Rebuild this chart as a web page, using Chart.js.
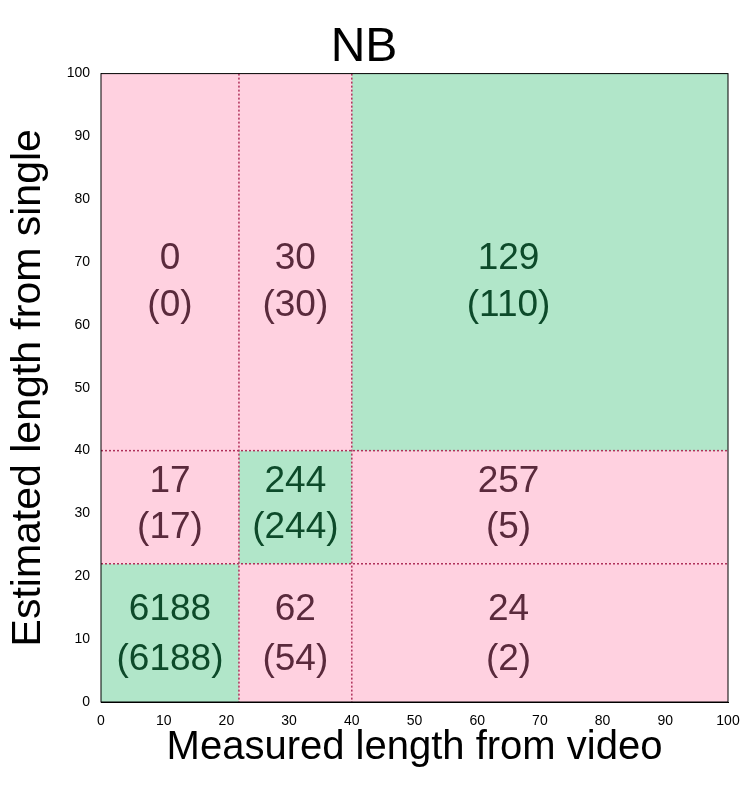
<html>
<head>
<script src="https://cdn.jsdelivr.net/npm/chart.js"></script>
<style>body{margin:0;background:#fff}</style>
</head>
<body>
<div style="width:743px;height:798px"><canvas id="c"></canvas></div>
<script>
const xEdges = [0, 22, 40, 100];
const yEdges = [0, 22, 40, 100];
// rows bottom -> top, columns left -> right
const counts = [[6188, 62, 24], [17, 244, 257], [0, 30, 129]];
const paren = [[6188, 54, 2], [17, 244, 5], [0, 30, 110]];
const labelX = [11, 31, 65];
const labelY = [[14.6, 6.7], [35, 27.7], [70.5, 63]];

const pink = '#ffd1e0', green = '#b1e6c9';

const cellPlugin = {
  id: 'cells',
  beforeDatasetsDraw(chart) {
    const {ctx, scales: {x, y}} = chart;
    ctx.save();
    for (let r = 0; r < 3; r++) for (let c = 0; c < 3; c++) {
      const x0 = x.getPixelForValue(xEdges[c]), x1 = x.getPixelForValue(xEdges[c + 1]);
      const y0 = y.getPixelForValue(yEdges[r]), y1 = y.getPixelForValue(yEdges[r + 1]);
      ctx.fillStyle = r === c ? green : pink;
      ctx.fillRect(x0, y1, x1 - x0, y0 - y1);
    }
    ctx.strokeStyle = '#b0305a';
    ctx.lineWidth = 1.5;
    ctx.setLineDash([2, 2]);
    const a = chart.chartArea;
    [xEdges[1], xEdges[2]].forEach(v => {
      const px = x.getPixelForValue(v);
      ctx.beginPath(); ctx.moveTo(px, a.top); ctx.lineTo(px, a.bottom); ctx.stroke();
    });
    [yEdges[1], yEdges[2]].forEach(v => {
      const py = y.getPixelForValue(v);
      ctx.beginPath(); ctx.moveTo(a.left, py); ctx.lineTo(a.right, py); ctx.stroke();
    });
    ctx.setLineDash([]);
    ctx.font = '37px Arial, "Liberation Sans", sans-serif';
    ctx.textAlign = 'center';
    ctx.textBaseline = 'middle';
    for (let r = 0; r < 3; r++) for (let c = 0; c < 3; c++) {
      ctx.fillStyle = r === c ? '#0d4a2a' : '#5a2a3c';
      const px = x.getPixelForValue(labelX[c]);
      ctx.fillText(String(counts[r][c]), px, y.getPixelForValue(labelY[r][0]));
      ctx.fillText('(' + paren[r][c] + ')', px, y.getPixelForValue(labelY[r][1]));
    }
    ctx.strokeStyle = '#000';
    ctx.lineWidth = 1;
    ctx.strokeRect(a.left, a.top, a.right - a.left, a.bottom - a.top);
    ctx.restore();
  }
};

new Chart(document.getElementById('c'), {
  type: 'scatter',
  data: {datasets: [{data: []}]},
  options: {
    responsive: true, maintainAspectRatio: false, animation: false,
    layout: {padding: {left: 0, right: 15, top: 0, bottom: 22}},
    plugins: {
      legend: {display: false}, tooltip: {enabled: false},
      title: {display: true, text: 'NB', color: '#000',
        font: {size: 48, family: 'Arial, "Liberation Sans", sans-serif', weight: 'normal'},
        padding: {top: 19, bottom: -3}}
    },
    scales: {
      x: {min: 0, max: 100,
        afterFit: s => { s.height = 74; },
        ticks: {stepSize: 10, color: '#000', font: {size: 14, family: 'Arial, "Liberation Sans"'}, maxRotation: 0},
        grid: {display: false}, border: {color: '#000'},
        title: {display: true, text: 'Measured length from video', color: '#000',
          font: {size: 40, family: 'Arial, "Liberation Sans"'}, padding: {top: 14}}},
      y: {min: 0, max: 100,
        afterFit: s => { s.width = 101; },
        ticks: {stepSize: 10, color: '#000', font: {size: 14, family: 'Arial, "Liberation Sans"'}},
        grid: {display: false}, border: {color: '#000'},
        title: {display: true, text: 'Estimated length from single', color: '#000',
          font: {size: 41, family: 'Arial, "Liberation Sans"'}, padding: {bottom: 10}}}
    }
  },
  plugins: [cellPlugin]
});
</script>
</body>
</html>
